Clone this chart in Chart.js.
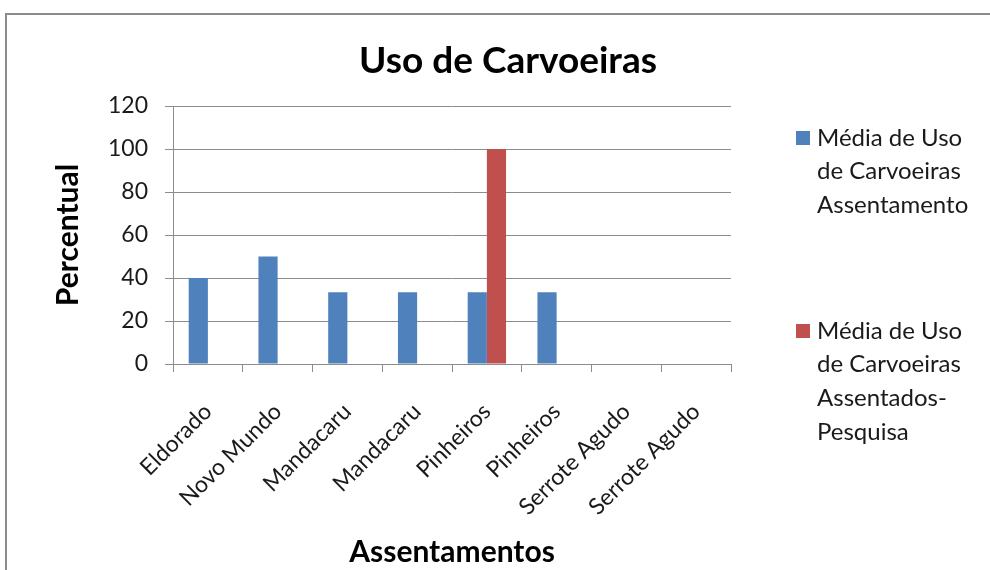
<!DOCTYPE html>
<html>
<head>
<meta charset="utf-8">
<script src="https://cdn.jsdelivr.net/npm/chart.js@4/dist/chart.umd.min.js"></script>
<style>
  body { margin: 0; background: #fff; }
  #wrap { position: relative; width: 990px; height: 570px; overflow: hidden; }
  #frame { position: absolute; left: 5px; top: 13px; width: 1000px; height: 600px; border: 2px solid #8c8c8c; box-sizing: border-box; }
  canvas { position: absolute; left: 0; top: 0; }
</style>
</head>
<body>
<div id="wrap">
  <div id="frame"></div>
  <canvas id="myChart" width="990" height="570"></canvas>
</div>
<script>
// dados do grafico
var titulo = 'Uso de Carvoeiras';
var assentamentos = ['Eldorado', 'Novo Mundo', 'Mandacaru', 'Mandacaru', 'Pinheiros', 'Pinheiros', 'Serrote Agudo', 'Serrote Agudo'];
var mediaAssentamento = [40, 50, 33.33, 33.33, 33.33, 33.33, 0, 0];
var mediaPesquisa = [null, null, null, null, 100, null, null, null];
var legenda1 = ['Média de Uso', 'de Carvoeiras', 'Assentamento'];
var legenda2 = ['Média de Uso', 'de Carvoeiras', 'Assentados-', 'Pesquisa'];

var fonte = 'Lato, Calibri, sans-serif';
var cinza = '#8c8c8c';

// titulo e legenda desenhados a mao (legenda com texto quebrado em linhas)
var extrasPlugin = {
  id: 'extras',
  afterDraw: function (chart) {
    var c = chart.ctx;
    var area = chart.chartArea;
    c.save();
    c.textBaseline = 'middle';
    c.textAlign = 'center';
    c.fillStyle = '#000';
    c.font = 'bold 37px ' + fonte;
    c.fillText(titulo, area.right - 223, 61);

    c.textAlign = 'left';
    c.font = '24px ' + fonte;
    var x = area.right + 65;
    var starts = [area.top + 32, area.top + 225];
    chart.data.datasets.forEach(function (ds, i) {
      var y = starts[i];
      c.fillStyle = ds.backgroundColor;
      c.fillRect(x, y - 7, 14, 14);
      c.fillStyle = '#1a1a1a';
      ds.linhas.forEach(function (t, j) {
        c.fillText(t, x + 21, y + j * 33.7);
      });
    });
    c.restore();
  }
};

var ctx = document.getElementById('myChart');

var myChart = new Chart(ctx, {
  type: 'bar',
  data: {
    labels: assentamentos,
    datasets: [{
      label: legenda1.join(' '),
      linhas: legenda1,
      data: mediaAssentamento,
      backgroundColor: '#4F81BD',
      borderWidth: 0,
      categoryPercentage: 0.55,
      barPercentage: 1
    }, {
      label: legenda2.join(' '),
      linhas: legenda2,
      data: mediaPesquisa,
      backgroundColor: '#C0504D',
      borderWidth: 0,
      categoryPercentage: 0.55,
      barPercentage: 1
    }]
  },
  options: {
    responsive: false,
    animation: false,
    layout: { padding: { left: 50, right: 259, top: 106, bottom: 0 } },
    plugins: {
      legend: { display: false },
      tooltip: { enabled: false },
      title: { display: false }
    },
    scales: {
      x: {
        offset: true,
        afterFit: function (s) { s.height = 206; },
        grid: { offset: true, drawOnChartArea: false, drawTicks: true, tickLength: 8, color: cinza },
        border: { color: cinza, width: 1 },
        ticks: {
          color: '#1a1a1a',
          font: { family: fonte, size: 23 },
          maxRotation: 45,
          minRotation: 45,
          padding: 26,
          autoSkip: false
        },
        title: {
          display: true,
          text: 'Assentamentos',
          color: '#000',
          font: { family: fonte, size: 30, weight: 'bold' },
          padding: { top: 0, bottom: 0 }
        }
      },
      y: {
        min: 0,
        max: 120,
        afterFit: function (s) { s.width = 123; },
        grid: { color: cinza, tickLength: 8, drawTicks: true },
        border: { color: cinza, width: 1 },
        ticks: {
          stepSize: 20,
          color: '#1a1a1a',
          font: { family: fonte, size: 23 },
          padding: 17
        },
        title: {
          display: true,
          text: 'Percentual',
          color: '#000',
          font: { family: fonte, size: 30, weight: 'bold' },
          padding: { top: 0, bottom: 0 }
        }
      }
    }
  },
  plugins: [extrasPlugin]
});
</script>
</body>
</html>
